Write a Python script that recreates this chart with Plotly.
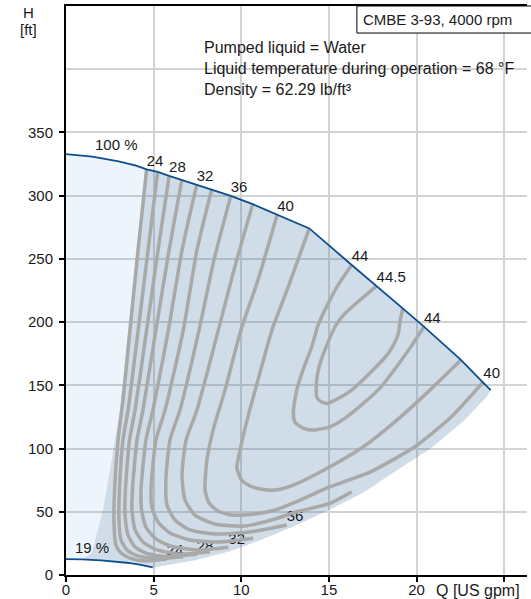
import plotly.graph_objects as go

# ---- pump curves (Q in US gpm, H in ft) ----
q_max = [0, 1.5, 3.0, 4.0, 4.6, 5.23, 5.88, 6.6, 7.46, 8.31, 9.4, 10.65, 12.05, 13.88,
         16.3, 17.72, 19.21, 20.42, 22.53, 23.77, 24.23]
h_max = [332.8, 330.8, 327.2, 323.8, 320.8, 318.8, 315.6, 312.4, 308.8, 305.0, 299.8, 293.3, 285.2, 274.1,
         245.2, 228.8, 210.9, 196.4, 170.1, 152.6, 146.2]
q_min = [0, 0.9, 2.0, 3.0, 3.46, 4.2, 4.95]
h_min = [12.5, 12.4, 11.6, 10.5, 9.7, 8.2, 6.1]

# ---- efficiency area boundaries ----
q_area_left = [1.0, 1.48, 2.11, 2.51, 3.08, 3.55, 4.05, 4.5]
h_area_left = [12.4, 17.4, 51.4, 83.0, 130.4, 193.4, 256.9, 321.2]
q_area_low = [4.98, 7.3, 9.4, 11.0, 13.0, 15.0, 17.0, 18.9, 20.8, 22.7, 24.0, 24.23]
h_area_low = [6.0, 11.5, 19.0, 27.0, 38.5, 51.5, 65.5, 83.0, 100.0, 122.0, 141.0, 146.2]

# ---- efficiency contours (%) ----
q24 = [4.60, 4.11, 3.65, 3.25, 2.97, 2.77, 2.74, 2.85, 3.14, 3.65, 4.51, 5.74]
h24 = [320.7, 256.9, 193.7, 138.3, 106.7, 67.2, 39.5, 23.7, 17.4, 13.4, 11.1, 12.6]
q26 = [5.23, 4.68, 4.12, 3.54, 3.25, 3.05, 3.02, 3.14, 3.48, 4.05, 5.08, 6.69]
h26 = [318.8, 256.9, 193.7, 130.4, 106.7, 67.2, 43.5, 27.7, 19.8, 15.4, 13.0, 14.5]
q28 = [5.88, 5.25, 4.60, 3.94, 3.62, 3.39, 3.37, 3.54, 3.94, 4.62, 5.65, 7.46]
h28 = [315.4, 256.9, 193.7, 130.4, 106.7, 67.2, 47.4, 31.6, 22.1, 17.0, 14.6, 16.4]
q30 = [6.60, 5.88, 5.13, 4.39, 4.05, 3.79, 3.76, 3.94, 4.39, 5.19, 6.50, 8.21]
h30 = [312.2, 256.9, 193.7, 130.4, 106.7, 67.2, 51.4, 35.6, 26.1, 19.8, 16.6, 18.4]
q32 = [7.46, 6.62, 5.84, 4.96, 4.56, 4.28, 4.31, 4.56, 5.13, 6.05, 7.64, 9.26]
h32 = [308.9, 256.9, 193.7, 130.4, 106.7, 67.2, 51.4, 37.9, 28.5, 22.5, 19.8, 21.9]
q34 = [8.31, 7.47, 6.69, 5.65, 5.13, 4.85, 4.91, 5.25, 5.93, 7.07, 8.78, 10.68]
h34 = [304.9, 256.9, 193.7, 130.4, 106.7, 67.2, 53.0, 41.9, 33.2, 27.7, 26.1, 29.0]
q36 = [9.40, 8.44, 7.59, 6.50, 5.93, 5.70, 5.76, 6.22, 7.07, 8.50, 10.50, 12.59]
h36 = [299.8, 249.0, 193.7, 130.4, 106.7, 75.1, 55.3, 43.5, 35.6, 32.4, 34.0, 39.5]
q38 = [10.65, 9.58, 8.69, 7.47, 6.85, 6.62, 6.79, 7.36, 8.50, 10.21, 11.92, 13.16, 15.06, 16.30]
h38 = [293.3, 241.1, 193.7, 130.4, 106.7, 79.1, 59.3, 47.4, 40.3, 38.7, 44.3, 50.0, 56.7, 65.8]
q40 = [12.05, 10.95, 9.98, 9.07, 8.39, 8.04, 7.93, 8.16, 8.67, 9.47, 10.78, 11.92, 13.35, 15.06,
       17.34, 19.79, 21.91, 23.81]
h40 = [285.1, 233.2, 193.7, 146.2, 114.6, 90.9, 67.2, 56.9, 50.6, 47.4, 48.2, 51.4, 59.3, 69.8,
       81.4, 100.4, 124.1, 152.8]
q42 = [13.88, 12.68, 11.75, 10.95, 10.33, 9.93, 9.75, 10.02, 10.50, 11.07, 11.92, 12.97, 15.06,
       16.94, 18.88, 20.76, 22.53]
h42 = [274.1, 227.9, 193.7, 154.1, 122.5, 98.8, 84.6, 75.1, 70.4, 68.0, 67.2, 71.1, 85.6,
       101.2, 122.5, 146.2, 170.0]
q44 = [16.30, 15.52, 14.96, 14.38, 14.02, 13.52, 13.16, 12.97, 13.06, 13.52, 14.11, 15.06, 15.92,
       16.96, 17.91, 18.86, 19.74, 20.42]
h44 = [245.1, 229.2, 214.8, 197.6, 180.5, 162.1, 146.2, 128.9, 120.9, 116.2, 114.6, 117.2, 124.1,
       135.7, 147.8, 164.7, 181.8, 196.3]
q445 = [17.72, 16.77, 15.92, 15.40, 14.95, 14.49, 14.30, 14.30, 14.49, 14.87, 15.35, 16.30, 17.34,
        18.39, 18.77, 18.96, 19.05, 19.21]
h445 = [228.7, 217.4, 206.9, 197.6, 184.2, 167.3, 154.1, 141.0, 137.5, 135.7, 138.3, 146.2, 159.7,
        175.3, 184.2, 191.1, 200.0, 210.8]

levels = ["24", "26", "28", "30", "32", "34", "36", "38", "40", "42", "44", "44.5"]
contours = [(q24, h24), (q26, h26), (q28, h28), (q30, h30), (q32, h32), (q34, h34),
            (q36, h36), (q38, h38), (q40, h40), (q42, h42), (q44, h44), (q445, h445)]
# which ends of each contour carry a label
label_first = ["24", "28", "32", "36", "40", "44", "44.5"]
label_last = ["24", "28", "32", "36", "40", "44"]

x_ticks = [0, 5, 10, 15, 20, 25]
x_ticktext = ["0", "5", "10", "15", "20", ""]
y_ticks = [0, 50, 100, 150, 200, 250, 300, 350]

FONT = "Liberation Sans, Arial, sans-serif"
GRAY = "#a9a9a9"
BLUE = "#0b4f8f"
TXT = "#1a1a1a"

fig = go.Figure()

# light operating area
light_q = q_max + q_area_low[::-1] + q_min[::-1]
light_h = h_max + h_area_low[::-1] + h_min[::-1]
fig.add_trace(go.Scatter(x=light_q, y=light_h, fill="toself", mode="none",
                         fillcolor="rgba(0,106,210,0.07)", hoverinfo="skip"))

# darker efficiency area
dark_q = (q_area_left + [q for q in q_max if q > q_area_left[-1]] + q_area_low[::-1]
          + [q for q in q_min[::-1] if q > q_area_left[0]])
dark_h = (h_area_left + [h for q, h in zip(q_max, h_max) if q > q_area_left[-1]] + h_area_low[::-1]
          + [h for q, h in zip(q_min[::-1], h_min[::-1]) if q > q_area_left[0]])
fig.add_trace(go.Scatter(x=dark_q, y=dark_h, fill="toself", mode="none",
                         fillcolor="rgba(93,125,152,0.2)", hoverinfo="skip"))

# labels (drawn below the contour lines)
lx, ly, lt = [], [], []
for lev, (q, h) in zip(levels, contours):
    if lev in label_first:
        lx.append(q[0]); ly.append(h[0]); lt.append(lev)
    if lev in label_last:
        lx.append(q[-1]); ly.append(h[-1]); lt.append(lev)
fig.add_trace(go.Scatter(x=lx, y=ly, text=lt, mode="text", textposition="top right",
                         textfont=dict(family=FONT, size=15, color=TXT), hoverinfo="skip"))

for lev, (q, h) in zip(levels, contours):
    fig.add_trace(go.Scatter(x=q, y=h, mode="lines",
                             line=dict(color=GRAY, width=3.5, shape="spline", smoothing=0.6),
                             hoverinfo="skip"))

fig.add_trace(go.Scatter(x=q_max, y=h_max, mode="lines", line=dict(color=BLUE, width=1.8)))
fig.add_trace(go.Scatter(x=q_min, y=h_min, mode="lines", line=dict(color=BLUE, width=1.8)))

f15 = dict(family=FONT, size=15, color=TXT)
f16 = dict(family=FONT, size=16, color=TXT)
annotations = [
    dict(x=q_max[1], y=h_max[1], xref="x", yref="y", text="100 %", showarrow=False,
         xanchor="left", yanchor="bottom", xshift=1, yshift=2, font=f15),
    dict(x=q_min[1], y=h_min[1], xref="x", yref="y", text="19 %", showarrow=False,
         xanchor="left", yanchor="bottom", xshift=-9, yshift=1, font=f15),
    dict(x=0.295, y=0.9262, xref="paper", yref="paper", text="Pumped liquid = Water", showarrow=False,
         xanchor="left", yanchor="middle", font=f16),
    dict(x=0.295, y=0.8893, xref="paper", yref="paper", text="Liquid temperature during operation = 68 °F",
         showarrow=False, xanchor="left", yanchor="middle", font=f16),
    dict(x=0.295, y=0.8541, xref="paper", yref="paper", text="Density = 62.29 lb/ft³", showarrow=False,
         xanchor="left", yanchor="middle", font=f16),
    dict(x=0.640, y=0.977, xref="paper", yref="paper", text="CMBE 3-93, 4000 rpm", showarrow=False,
         xanchor="left", yanchor="middle", font=f15),
    dict(x=-0.0824, y=0.9877, xref="paper", yref="paper", text="H", showarrow=False,
         xanchor="center", yanchor="middle", font=f15),
    dict(x=-0.0824, y=0.958, xref="paper", yref="paper", text="[ft]", showarrow=False,
         xanchor="center", yanchor="middle", font=f15),
    dict(x=0.9885, y=-0.0264, xref="paper", yref="paper", text="Q [US gpm]", showarrow=False,
         xanchor="right", yanchor="middle", font=f16),
]

fig.update_layout(
    width=531, height=599,
    margin=dict(l=66, r=4, t=6, b=24, autoexpand=False),
    paper_bgcolor="white", plot_bgcolor="white",
    showlegend=False,
    font=dict(family=FONT, size=15, color=TXT),
    annotations=annotations,
    shapes=[dict(type="rect", xref="paper", yref="paper", x0=0.631, x1=1.03, y0=0.9525, y1=1.0,
                 line=dict(color="black", width=1), fillcolor="white", layer="above")],
)
fig.update_xaxes(range=[0, 26.3], tickvals=x_ticks, ticktext=x_ticktext, ticks="outside", ticklen=5,
                 tickwidth=2, tickcolor="black", showline=True, linewidth=2, linecolor="black", mirror=True,
                 showgrid=True, gridcolor="#d3d3d3", gridwidth=1.5, zeroline=False, automargin=False,
                 tickfont=f15, ticklabelstandoff=-5)
fig.update_yaxes(range=[0, 450], tickvals=y_ticks, ticks="outside", ticklen=5, tickwidth=2,
                 tickcolor="black", showline=True, linewidth=2, linecolor="black",
                 showgrid=True, gridcolor="#d3d3d3", gridwidth=1.5, zeroline=False, automargin=False,
                 tickfont=f15, ticklabelstandoff=3,
                 minor=dict(tickvals=[400], showgrid=True, gridcolor="#d3d3d3", gridwidth=1.5, ticks=""))

fig.write_html("out.html", config={"displayModeBar": False},
               post_script="document.body.style.margin='0';document.body.style.overflow='hidden';")
